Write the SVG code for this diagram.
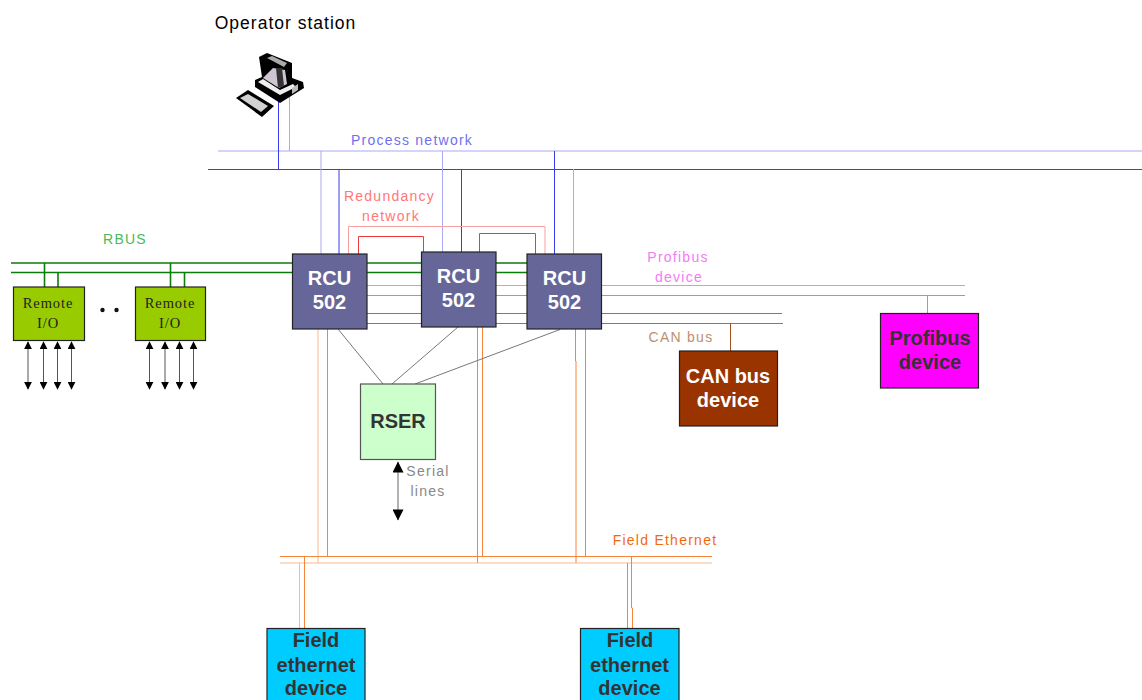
<svg xmlns="http://www.w3.org/2000/svg" width="1142" height="700" viewBox="0 0 1142 700">
<style>
text{font-family:"Liberation Sans",Arial,sans-serif;text-anchor:middle}
.l{font-size:14px;letter-spacing:1.25px}
.b{font-size:20px;font-weight:bold}
.s{font-family:"Liberation Serif","Times New Roman",serif;font-size:14.500px;letter-spacing:.9px;fill:#222}
.box{stroke:#222;stroke-width:1.200}
line,polyline{fill:none;stroke-width:1}
.pl{stroke:#a9a9f5}.pd{stroke:#3a3af0}
.g{stroke:#0a7d0a;stroke-width:1.600}
.pk{stroke:#ee66ee}.br{stroke:#b06a45}
.ol{stroke:#f9b98a}.od{stroke:#f5853a}
.gr{stroke:#777}
.a{stroke:#555;marker-start:url(#h);marker-end:url(#h)}
</style>
<defs>
<marker id="h" viewBox="0 0 10 10" refX="9" refY="5" markerWidth="8" markerHeight="8" markerUnits="userSpaceOnUse" orient="auto-start-reverse"><path d="M0 0L10 5L0 10Z" fill="#000"/></marker>
<marker id="H" viewBox="0 0 10 10" refX="9.500" refY="5" markerWidth="14" markerHeight="11" markerUnits="userSpaceOnUse" orient="auto-start-reverse"><path d="M0 0L10 5L0 10Z" fill="#000"/></marker>
</defs>
<g id="connectors">
<line class="pl" x1="218" y1="151" x2="1142" y2="151"/>
<line class="pd" x1="208" y1="169.500" x2="1142" y2="169.500"/>
<line class="pd" x1="278.500" y1="102" x2="278.500" y2="169"/>
<line class="pl" x1="289.500" y1="96" x2="289.500" y2="151"/>
<line class="pl" x1="321" y1="151" x2="321" y2="254"/>
<line class="pd" x1="339" y1="169" x2="339" y2="254"/>
<line class="pl" x1="442.500" y1="151" x2="442.500" y2="252"/>
<line class="pd" x1="461.500" y1="169" x2="461.500" y2="252"/>
<line class="pd" x1="554.500" y1="151" x2="554.500" y2="254"/>
<line class="pl" x1="573.500" y1="169" x2="573.500" y2="254"/>
<polyline stroke="#f9a0a0" points="348.500,254 348.500,226.500 545,226.500 545,254"/>
<polyline stroke="#f03a3a" points="358.500,254 358.500,236.500 423.500,236.500 423.500,252"/>
<polyline stroke="#f03a3a" points="479.500,252 479.500,233.500 535.500,233.500 535.500,254"/>
<line class="g" x1="11" y1="263" x2="527" y2="263"/>
<line class="g" x1="11" y1="272.500" x2="527" y2="272.500"/>
<line class="g" x1="44.500" y1="263" x2="44.500" y2="287"/>
<line class="g" x1="58" y1="272" x2="58" y2="287"/>
<line class="g" x1="170.500" y1="263" x2="170.500" y2="287"/>
<line class="g" x1="184.500" y1="272" x2="184.500" y2="287"/>
<line class="pk" x1="367" y1="285.500" x2="965" y2="285.500" stroke-opacity=".8"/>
<line class="pk" x1="367" y1="295.500" x2="965" y2="295.500"/>
<line class="pk" x1="927.500" y1="295" x2="927.500" y2="314"/>
<line class="br" x1="367" y1="313.500" x2="782" y2="313.500"/>
<line class="br" x1="367" y1="323.500" x2="783" y2="323.500"/>
<line stroke="#a8501f" x1="730.500" y1="323" x2="730.500" y2="351"/>
<line class="ol" x1="318" y1="329" x2="318" y2="563" stroke-width="1.500"/>
<line class="od" x1="327.500" y1="329" x2="327.500" y2="557"/>
<line class="od" x1="477.500" y1="327" x2="477.500" y2="563"/>
<line class="od" x1="482.500" y1="327" x2="482.500" y2="557"/>
<polyline class="od" points="575.500,329 575.500,361 576,361 576,563"/>
<line class="od" x1="585.500" y1="329" x2="585.500" y2="557"/>
<line class="od" x1="280" y1="556.500" x2="712" y2="556.500"/>
<line class="ol" x1="280" y1="563" x2="712" y2="563" stroke-width="1.500"/>
<line class="ol" x1="299.500" y1="563" x2="299.500" y2="628"/>
<line class="od" x1="304.500" y1="557" x2="304.500" y2="628"/>
<line class="od" x1="627.500" y1="563" x2="627.500" y2="628"/>
<polyline class="od" points="631.500,557 631.500,608 632.500,608 632.500,628"/>
<line class="gr" x1="338" y1="329" x2="383" y2="384"/>
<line class="gr" x1="458" y1="327" x2="392" y2="384"/>
<line class="gr" x1="560" y1="329.500" x2="415" y2="384"/>
<line class="a" x1="28" y1="342" x2="28" y2="389"/>
<line class="a" x1="43.500" y1="342" x2="43.500" y2="389"/>
<line class="a" x1="57.500" y1="342" x2="57.500" y2="389"/>
<line class="a" x1="71.500" y1="342" x2="71.500" y2="389"/>
<line class="a" x1="149.500" y1="342" x2="149.500" y2="389"/>
<line class="a" x1="165" y1="342" x2="165" y2="389"/>
<line class="a" x1="179.500" y1="342" x2="179.500" y2="389"/>
<line class="a" x1="193.500" y1="342" x2="193.500" y2="389"/>
<line stroke="#666" x1="398" y1="462" x2="398" y2="520" marker-start="url(#H)" marker-end="url(#H)"/>
</g>
<g id="operator-station">
<text x="285.500" y="29" font-size="17.500" letter-spacing="1">Operator station</text>
<path d="M259 57L267 53L292 63V78L303 82L304 88L280 103L255 87V80L262 77Z" fill="#000"/>
<path d="M267 58L272 56L287 63L284 67Z" fill="#aaa"/>
<path d="M263 78L273 68L285 70L287 84L279 88Z" fill="#cfc6d4"/>
<path d="M276 68H282L284 86L278 88Z" fill="#333"/>
<path d="M258 82L263 79L280 90L293 84L296 87L280 95Z" fill="#eee"/>
<path d="M292 88L298 84V90L292 94Z" fill="#bbb"/>
<path d="M236 98L248 90L274 106L262 117Z" fill="#000"/>
<path d="M240 98L248 94L268 106L261 112Z" fill="#cfd2cf"/>
</g>
<text class="l" x="412" y="145" fill="#7070ee">Process network</text>
<text class="l" x="389.500" y="201" fill="#f77">Redundancy</text>
<text class="l" x="391" y="221" fill="#f77">network</text>
<text class="l" x="125" y="244" fill="#4cb85a">RBUS</text>
<text class="l" x="678" y="262" fill="#f57af5">Profibus</text>
<text class="l" x="679" y="282" fill="#f57af5">device</text>
<text class="l" x="681" y="342" fill="#c08e70">CAN bus</text>
<text class="l" x="428" y="476" fill="#888">Serial</text>
<text class="l" x="428" y="496" fill="#888">lines</text>
<text class="l" x="665" y="545" fill="#f06a10">Field Ethernet</text>
<g id="remote-io-1">
<rect class="box" x="13.500" y="287" width="71" height="53.500" fill="#99cc00"/>
<text class="s" style="font-family:'Liberation Serif',serif" x="48" y="308">Remote</text>
<text class="s" style="font-family:'Liberation Serif',serif" x="48" y="328">I/O</text>
</g>
<g id="ellipsis">
<circle cx="102.500" cy="310" r="2.200" fill="#111"/>
<circle cx="116.500" cy="310" r="2.200" fill="#111"/>
</g>
<g id="remote-io-2">
<rect class="box" x="135.500" y="287" width="70" height="53.500" fill="#99cc00"/>
<text class="s" style="font-family:'Liberation Serif',serif" x="170" y="308">Remote</text>
<text class="s" style="font-family:'Liberation Serif',serif" x="170" y="328">I/O</text>
</g>
<g id="rcu-1">
<rect class="box" x="292.500" y="254" width="74.500" height="75" fill="#666699"/>
<text class="b" x="329.500" y="285" fill="#fff">RCU</text>
<text class="b" x="329.500" y="309" fill="#fff">502</text>
</g>
<g id="rcu-2">
<rect class="box" x="421.500" y="252" width="74.500" height="75" fill="#666699"/>
<text class="b" x="458.500" y="283" fill="#fff">RCU</text>
<text class="b" x="458.500" y="307" fill="#fff">502</text>
</g>
<g id="rcu-3">
<rect class="box" x="527" y="254" width="74.500" height="75" fill="#666699"/>
<text class="b" x="564.500" y="285" fill="#fff">RCU</text>
<text class="b" x="564.500" y="309" fill="#fff">502</text>
</g>
<g id="rser">
<rect x="360.500" y="384" width="75" height="75.500" fill="#ccffcc" stroke="#555" stroke-width="1.200"/>
<text class="b" x="398" y="428" fill="#333">RSER</text>
</g>
<g id="can-device">
<rect class="box" x="679.500" y="351" width="98" height="75" fill="#993300"/>
<text class="b" x="728" y="383" fill="#fff">CAN bus</text>
<text class="b" x="728" y="407" fill="#fff">device</text>
</g>
<g id="profibus-device">
<rect class="box" x="880.500" y="313.500" width="98" height="74.500" fill="#ff00ff"/>
<text class="b" x="930" y="345" fill="#333">Profibus</text>
<text class="b" x="930" y="369" fill="#333">device</text>
</g>
<g id="field-device-1">
<rect class="box" x="267" y="628.500" width="98" height="80" fill="#00ccff"/>
<text class="b" x="316" y="647" fill="#333">Field</text>
<text class="b" x="316" y="672" fill="#333">ethernet</text>
<text class="b" x="316" y="695" fill="#333">device</text>
</g>
<g id="field-device-2">
<rect class="box" x="580.500" y="628.500" width="98.500" height="80" fill="#00ccff"/>
<text class="b" x="630" y="647" fill="#333">Field</text>
<text class="b" x="629.500" y="672" fill="#333">ethernet</text>
<text class="b" x="629.500" y="695" fill="#333">device</text>
</g>
</svg>
